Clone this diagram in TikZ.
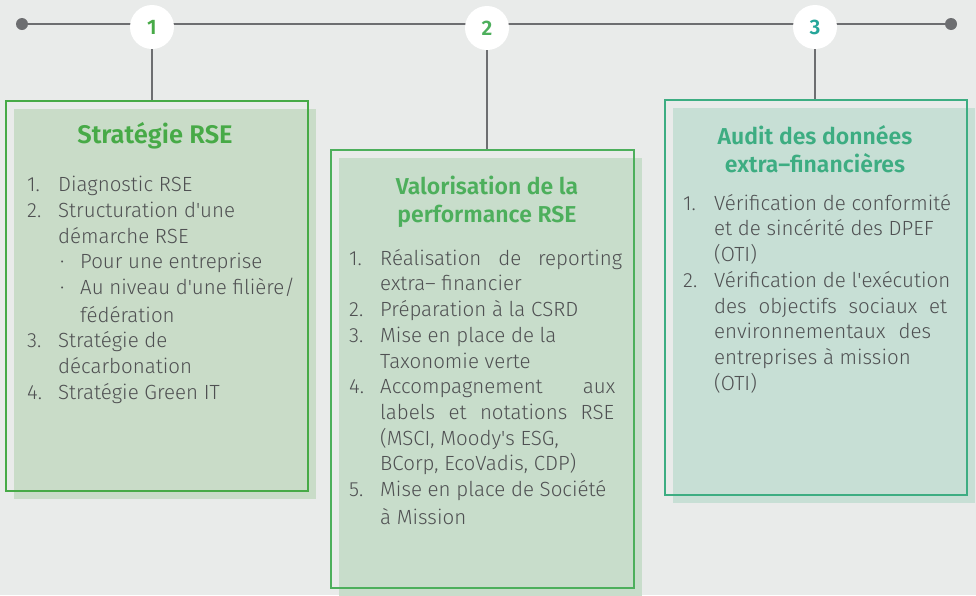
\documentclass[tikz,border=0pt]{standalone}
\usepackage{fontspec}
\setmainfont{Fira Sans}[UprightFont=* Light, BoldFont=* SemiBold]
\usetikzlibrary{shadows}

\definecolor{bggrey}{HTML}{E9EBEA}
\definecolor{linegrey}{HTML}{6D6E71}
\definecolor{textgrey}{HTML}{4F5052}
\definecolor{rsegreen}{HTML}{47AA47}
\definecolor{valgreen}{HTML}{4DAF5C}
\definecolor{auditgreen}{HTML}{3DAD82}
\definecolor{auditteal}{HTML}{26A69A}
\definecolor{fillone}{HTML}{C9DCC8}
\definecolor{filltwo}{HTML}{C8DDCB}
\definecolor{fillthree}{HTML}{C7DFD5}

% list helpers
\newcommand{\lnum}[1]{\makebox[31pt][l]{#1}}
\newcommand{\lcont}{\hspace*{31pt}}
\newcommand{\lbul}{\hspace*{2pt}\makebox[20pt][l]{·}}
\newcommand{\apos}{\textquotesingle}

\begin{document}
\begin{tikzpicture}[x=1pt,y=-1pt,
    dot/.style={circle, fill=linegrey, inner sep=0pt, minimum size=12pt},
    stepnum/.style={circle, fill=white, inner sep=0pt, minimum size=44pt, font=\fontsize{21}{21}\selectfont\bfseries},
    panel/.style={draw=#1, line width=2.5pt, inner sep=0pt},
    title/.style={font=\fontsize{#1}{28}\selectfont\bfseries, align=center, inner sep=0pt},
    body/.style={font=\fontsize{20.5}{25.7}\selectfont, text=textgrey, align=left, inner sep=0pt, anchor=north west}]
    \useasboundingbox (0,0) rectangle (976,595);
    \fill[bggrey] (0,0) rectangle (976,595);

    % timeline
    \node[dot] (startdot) at (22,24) {};
    \node[dot] (enddot) at (951,24) {};
    \draw[linegrey, line width=2pt] (startdot) -- (enddot);
    \node[stepnum, text=rsegreen] (c1) at (152,27) {1};
    \node[stepnum, text=valgreen] (c2) at (487,28) {2};
    \node[stepnum, text=auditteal] (c3) at (815,27) {3};

    % panels
    \node[panel=rsegreen, minimum width=302pt, minimum height=390pt,
        drop shadow={shadow xshift=8pt, shadow yshift=-8pt, opacity=1, fill=fillone}] (box1) at (157,296) {};
    \node[panel=valgreen, minimum width=303pt, minimum height=438pt,
        drop shadow={shadow xshift=8pt, shadow yshift=-8pt, opacity=1, fill=filltwo}] (box2) at (482.5,369) {};
    \node[panel=auditgreen, minimum width=302pt, minimum height=395pt,
        drop shadow={shadow xshift=8pt, shadow yshift=-8pt, opacity=1, fill=fillthree}] (box3) at (816,297.5) {};

    \draw[linegrey, line width=2pt] (c1.south) -- (c1.south |- box1.north);
    \draw[linegrey, line width=2pt] (c2.south) -- (c2.south |- box2.north);
    \draw[linegrey, line width=2pt] (c3.south) -- (c3.south |- box3.north);

    % titles
    \node[title=25.5, text=rsegreen] (t1) at (155,136) {Stratégie RSE};
    \node[title=23, text=valgreen] (t2) at (487,202) {Valorisation de la\\performance RSE};
    \node[title=23, text=auditgreen] (t3) at (815,149) {Audit des données\\extra–financières};

    % lists
    \node[body] (list1) at (27,176) {%
        \lnum{1.}Diagnostic RSE\\
        \lnum{2.}Structuration d\apos une\\
        \lcont démarche RSE\\
        \lcont\lbul Pour une entreprise\\
        \lcont\lbul Au niveau d\apos une filière/\\[2pt]
        \lcont\hspace*{22pt}fédération\\
        \lnum{3.}Stratégie de\\
        \lcont décarbonation\\
        \lnum{4.}Stratégie Green IT};
    \node[body] (list2) at (349,249) {%
        \lnum{1.}\hbox to 242pt{Réalisation\hfill de\hfill reporting}\\
        \lcont extra– financier\\
        \lnum{2.}Préparation à la CSRD\\
        \lnum{3.}Mise en place de la\\
        \lcont Taxonomie verte\\
        \lnum{4.}\hbox to 235pt{Accompagnement\hfill aux}\\
        \lcont\hbox to 234pt{labels\hfill et\hfill notations\hfill RSE}\\
        \lcont (MSCI, Moody\apos s ESG,\\
        \lcont BCorp, EcoVadis, CDP)\\
        \lnum{5.}Mise en place de Société\\[2pt]
        \lcont à Mission};
    \node[body] (list3) at (683,194) {%
        \lnum{1.}Vérification de conformité\\
        \lcont et de sincérité des DPEF\\
        \lcont (OTI)\\
        \lnum{2.}Vérification de l\apos exécution\\
        \lcont\hbox to 233pt{des\hfill objectifs\hfill sociaux\hfill et}\\
        \lcont\hbox to 217pt{environnementaux\hfill des}\\
        \lcont entreprises à mission\\
        \lcont (OTI)};
\end{tikzpicture}
\end{document}
